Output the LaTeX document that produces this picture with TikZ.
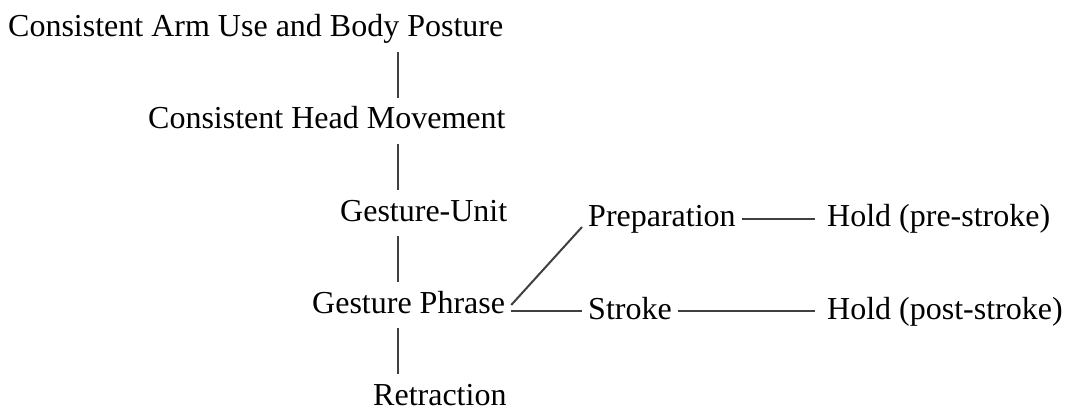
\documentclass[tikz,border=0pt]{standalone}
\usepackage{fontspec}
\setmainfont{Liberation Serif}
\usepackage{tikz}

\begin{document}
\begin{tikzpicture}[x=1pt, y=1pt,
  lbl/.style={font=\fontsize{32}{38}\selectfont, text height=23pt, text depth=7pt,
    inner xsep=6pt, inner ysep=8pt, anchor=base west},
  link/.style={draw=black!75, line width=2pt}
]
  \useasboundingbox (0,0) rectangle (1075,410);

  % main column
  \node[lbl] (arm)    at (2,373)   {Consistent Arm Use and Body Posture};
  \node[lbl] (head)   at (142,281) {Consistent Head Movement};
  \node[lbl] (unit)   at (334,189) {Gesture-Unit};
  \node[lbl] (phrase) at (306,97)  {Gesture Phrase};
  \node[lbl] (retr)   at (367,5)   {Retraction};
  \coordinate (spine) at (398,0);

  % phases
  \node[lbl] (prep)     at (582,183) {Preparation};
  \node[lbl] (prehold)  at (821,183) {Hold (pre-stroke)};
  \node[lbl] (stroke)   at (582,91)  {Stroke};
  \node[lbl] (posthold) at (821,91)  {Hold (post-stroke)};

  \draw[link] (arm.south -| spine)    -- (head.north -| spine);
  \draw[link] (head.south -| spine)   -- (unit.north -| spine);
  \draw[link] (unit.south -| spine)   -- (phrase.north -| spine);
  \draw[link] (phrase.south -| spine) -- (retr.north -| spine);

  \draw[link] (phrase.east) -- (prep.base west);
  \draw[link] (phrase.east |- stroke.west) -- (stroke.west);
  \draw[link] (prep.east)   -- ([xshift=-6pt]prehold.west);
  \draw[link] (stroke.east) -- ([xshift=-6pt]posthold.west);
\end{tikzpicture}
\end{document}
